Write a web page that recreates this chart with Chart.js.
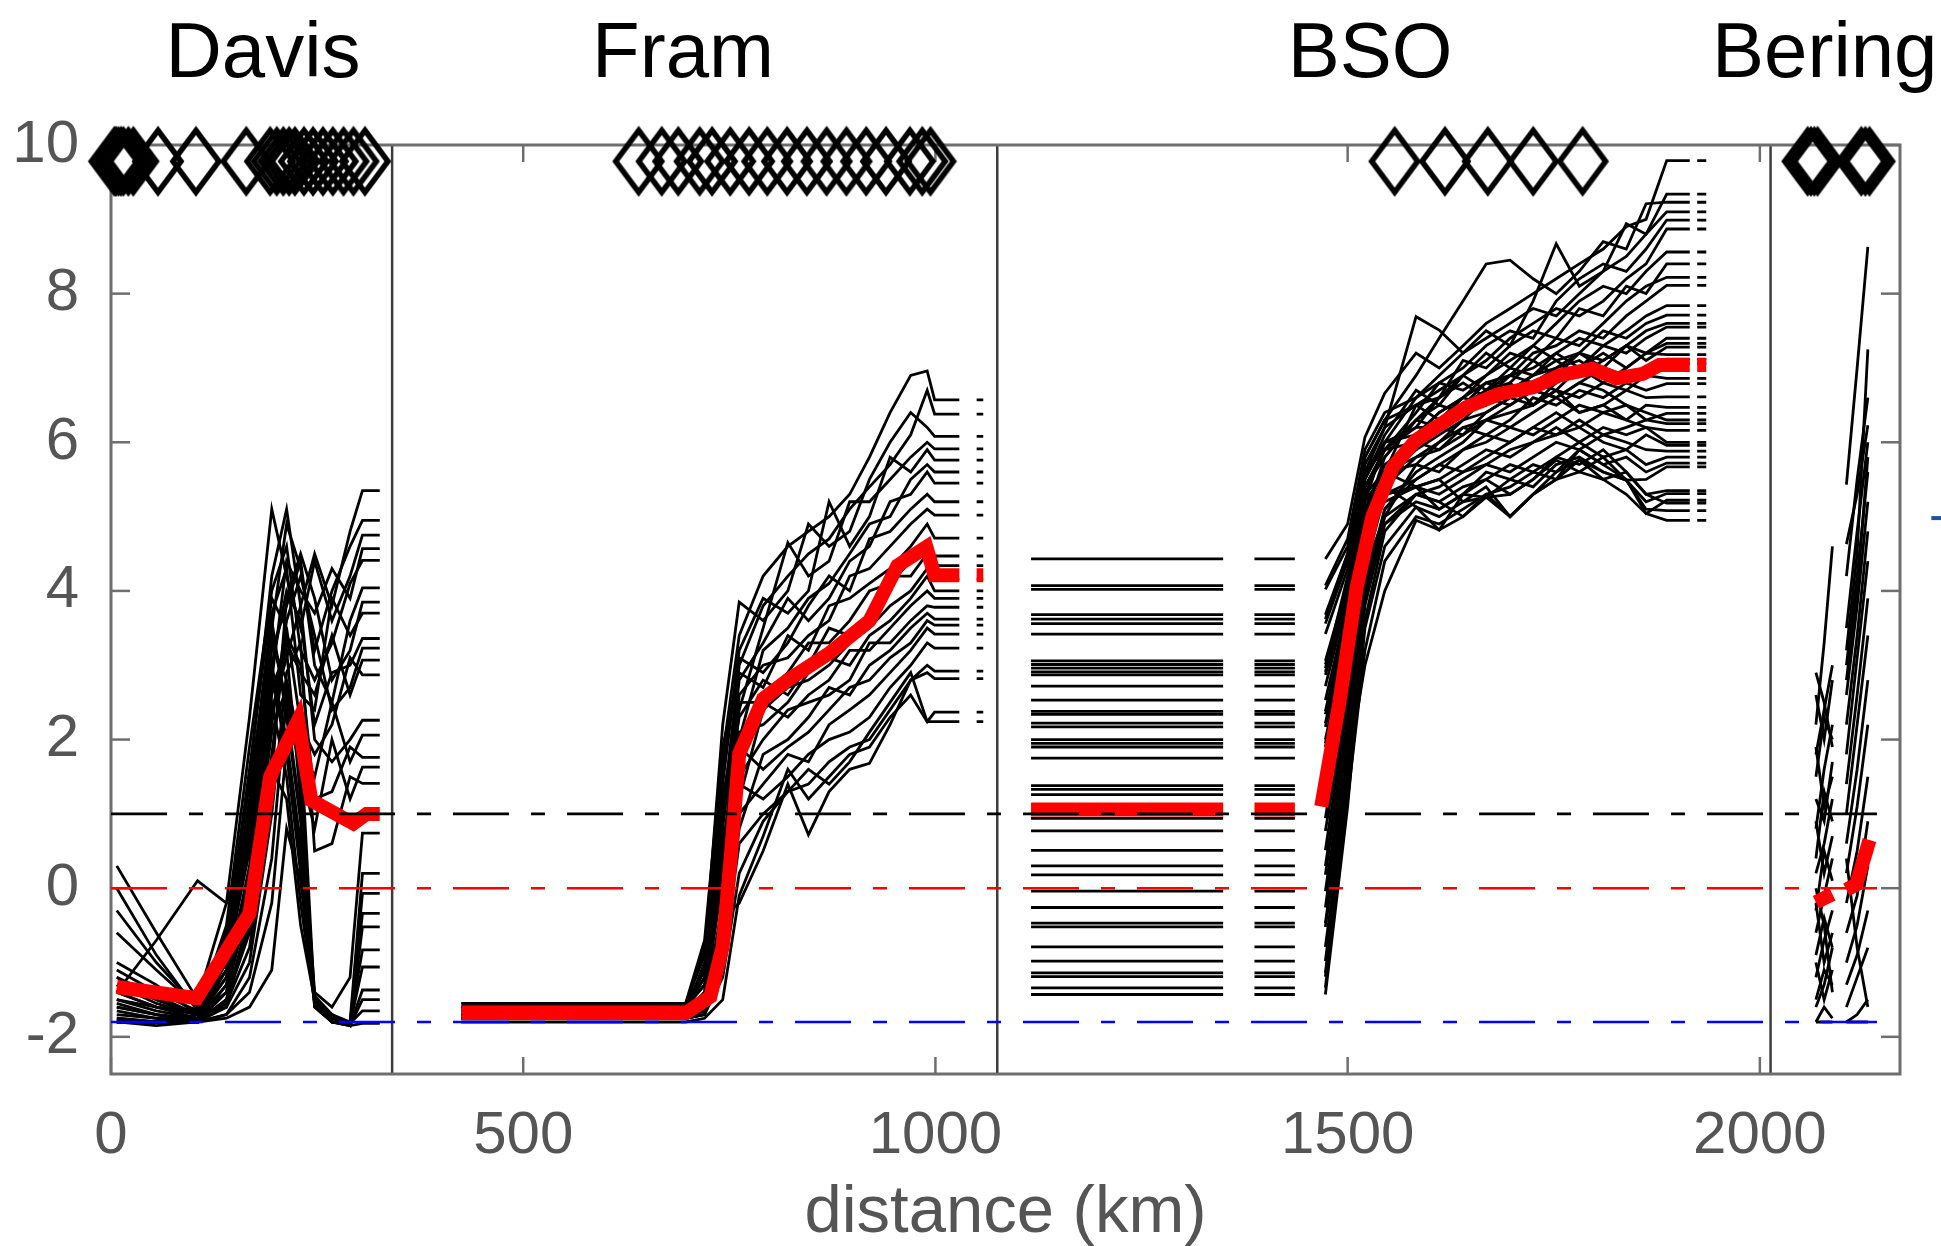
<!DOCTYPE html>
<html><head><meta charset="utf-8">
<script src="https://cdn.jsdelivr.net/npm/chart.js@4.4.0/dist/chart.umd.min.js"></script>
<style>html,body{margin:0;padding:0;background:#fff;}canvas{display:block;}</style>
</head><body>
<canvas id="c" width="1941" height="1246"></canvas>
<script>
// ---------------- DATA ----------------
const panelNames = ['Davis', 'Fram', 'BSO', 'Bering'];
const xTicks = [0, 500, 1000, 1500, 2000];
const yTicks = [-2, 0, 2, 4, 6, 8, 10];
const dividers = [341, 1075, 2013];
const refLines = [1, 0, -1.8];
const refColors = ['#000000', '#ff0000', '#0000ff'];
const refSpan = [0, 2150];

const diamondY = 9.78;
const davisDiamonds = [4, 6, 9, 12, 15, 21, 27, 57, 103, 164, 193, 201, 209, 216, 223, 234, 245, 257, 269, 282, 294, 308];
const framDiamonds = [640, 668, 688, 714, 729, 751, 774, 796, 820, 844, 868, 892, 916, 940, 969, 984, 994];
const bsoDiamonds = [1557, 1618, 1670, 1725, 1785];
const beringDiamonds = [2058, 2062, 2066, 2070, 2123, 2128, 2133];

// Davis ensemble
const davisX = [7, 55, 105, 140, 168, 195, 213, 230, 247, 268, 290, 305, 326];
const davisMembers = [
  [-1.2,-1.5,-1.7,-0.8,1.5,4.2,5.1,3.8,4.5,3.8,4.8,5.35,5.35],
  [-1.6,-1.7,-1.75,-1.2,0.8,3.5,4.9,4.3,3.2,4.0,4.6,4.95,4.95],
  [0.3,-0.6,-1.5,-0.2,2.3,5.1,4.2,3.5,4.4,3.6,4.2,4.75,4.75],
  [-1.8,-1.8,-1.7,-1.4,0.2,2.8,4.4,4.0,3.7,4.3,3.9,4.57,4.57],
  [-1.4,-1.6,-1.65,-0.5,1.9,4.0,4.6,3.2,2.8,3.3,4.1,4.41,4.41],
  [-0.3,-1.0,-1.6,-1.0,1.0,3.2,3.8,4.4,3.0,2.5,3.6,4.04,4.04],
  [-1.7,-1.75,-1.8,-1.5,-0.6,1.5,3.9,4.5,3.9,2.8,3.2,3.85,3.85],
  [-1.0,-1.3,-1.7,-0.9,1.2,3.7,4.3,2.6,2.4,3.9,3.4,3.7,3.7],
  [-1.5,-1.65,-1.75,-1.1,0.6,3.0,4.0,3.6,2.2,2.9,3.0,3.36,3.36],
  [-1.8,-1.8,-1.75,-1.6,-0.3,2.2,3.6,4.2,3.4,2.4,2.7,3.23,3.23],
  [-1.4,-0.7,0.1,-0.2,0.6,2.6,3.3,2.9,2.6,3.4,2.6,3.07,3.07],
  [-1.3,-1.5,-1.7,-0.7,1.6,3.9,3.5,2.2,1.8,2.2,3.1,2.87,2.87],
  [-1.75,-1.8,-1.8,-1.3,0.0,2.4,3.1,3.8,2.0,1.7,2.0,2.26,2.26],
  [-1.1,-1.4,-1.65,-1.0,0.9,3.3,2.8,1.9,1.5,2.5,1.7,2.06,2.06],
  [-1.6,-1.7,-1.8,-1.5,-0.4,1.8,3.4,3.0,1.2,1.3,1.9,1.76,1.76],
  [-0.6,-1.1,-1.6,-0.6,1.4,3.4,2.5,1.6,0.8,2.0,1.2,1.63,1.63],
  [-1.8,-1.85,-1.8,-1.6,-1.0,1.0,2.9,3.3,0.5,0.6,1.5,1.41,1.41],
  [-1.5,-1.6,-1.7,-1.2,0.3,2.7,3.2,1.2,-1.4,-1.6,-1.2,0.74,0.74],
  [-1.3,-1.55,-1.7,-0.8,1.1,3.6,2.3,0.9,-1.5,-1.8,-1.8,0.2,0.2],
  [-1.8,-1.8,-1.8,-1.7,-1.2,0.4,2.6,2.0,-1.55,-1.7,-1.85,-0.07,-0.07],
  [0.0,-0.9,-1.65,-1.1,0.7,3.0,2.0,0.6,-1.5,-1.75,-1.82,-0.34,-0.34],
  [-1.65,-1.75,-1.8,-1.4,-0.2,2.1,2.7,1.5,-1.6,-1.8,-1.85,-0.52,-0.52],
  [-1.2,-1.45,-1.7,-1.0,0.5,2.9,1.8,0.2,-1.45,-1.7,-1.8,-0.83,-0.83],
  [-1.75,-1.8,-1.8,-1.55,-0.8,1.3,2.4,1.0,-1.5,-1.8,-1.83,-1.06,-1.06],
  [-1.4,-1.6,-1.75,-1.3,0.1,2.5,1.5,-0.2,-1.55,-1.75,-1.85,-1.37,-1.37],
  [-1.8,-1.8,-1.8,-1.7,-1.4,-0.2,1.9,0.4,-1.6,-1.8,-1.85,-1.5,-1.5],
  [-1.55,-1.7,-1.8,-1.5,-0.5,1.6,1.2,-0.5,-1.5,-1.75,-1.82,-1.65,-1.65],
  [-1.8,-1.8,-1.8,-1.75,-1.6,-1.1,0.8,0.1,-1.55,-1.8,-1.85,-1.82,-1.82]
];
const davisMeanX = [7, 104, 168, 193, 227, 243, 294, 310, 326];
const davisMeanY = [-1.33, -1.48, -0.34, 1.5, 2.26, 1.18, 0.87, 1.0, 1.0];

// Fram ensemble
const framX = [425, 697, 720, 742, 762, 791, 821, 846, 871, 896, 920, 945, 970, 990];
const framTails = [[999, 1029], [1050, 1058]];
const framMembers = [
  [-1.6,-1.6,-0.8,1.8,3.4,4.2,4.6,4.8,5.0,5.3,5.8,6.4,6.9,6.96],
  [-1.65,-1.65,-1.2,1.0,3.0,3.8,4.2,4.5,4.7,5.1,5.4,5.7,6.1,6.7],
  [-1.55,-1.55,-0.9,2.2,3.85,3.6,4.0,4.9,4.6,4.8,5.5,6.0,6.4,6.2],
  [-1.7,-1.7,-1.5,0.2,2.4,3.5,4.65,4.2,4.4,5.2,5.2,5.5,5.8,6.0],
  [-1.6,-1.6,-1.1,1.4,3.2,3.9,3.7,4.0,5.2,4.6,5.0,5.8,5.6,5.9],
  [-1.75,-1.75,-1.6,-0.5,2.0,3.2,3.5,3.9,4.1,4.5,4.9,5.0,5.5,5.7],
  [-1.6,-1.6,-1.3,0.8,2.8,3.3,3.9,3.6,3.9,4.4,4.6,5.2,5.3,5.6],
  [-1.65,-1.65,-1.0,1.6,3.1,2.9,3.3,3.8,4.2,4.0,4.7,4.8,5.1,5.3],
  [-1.7,-1.7,-1.4,0.4,2.6,3.0,3.1,3.4,3.6,4.2,4.3,4.6,4.9,5.1],
  [-1.55,-1.55,-0.7,1.9,2.9,2.7,3.4,3.2,3.8,3.9,4.1,4.3,4.6,4.9],
  [-1.7,-1.7,-1.6,-0.2,1.8,2.6,2.9,3.3,3.3,3.6,4.0,4.1,4.4,4.6],
  [-1.6,-1.6,-1.2,0.9,2.3,2.8,2.6,3.0,3.5,3.4,3.7,4.2,4.2,4.5],
  [-1.75,-1.75,-1.7,-0.8,1.2,2.4,2.7,2.8,3.0,3.3,3.5,3.8,4.0,4.3],
  [-1.65,-1.65,-1.4,0.5,2.1,2.2,2.5,2.9,3.1,3.0,3.4,3.6,3.9,4.2],
  [-1.6,-1.6,-1.1,1.2,2.5,2.5,2.3,2.6,2.8,3.2,3.2,3.5,3.8,4.0],
  [-1.7,-1.7,-1.5,-0.3,1.5,2.0,2.4,2.5,2.6,2.8,3.3,3.3,3.6,3.8],
  [-1.75,-1.75,-1.65,-0.9,0.8,1.8,2.0,2.3,2.7,2.6,3.0,3.2,3.5,3.7],
  [-1.6,-1.6,-1.3,0.6,1.9,1.6,1.9,2.1,2.4,2.7,2.8,3.1,3.3,3.6],
  [-1.7,-1.7,-1.55,-0.6,1.0,1.4,1.8,1.7,2.2,2.4,2.6,2.9,3.2,3.5],
  [-1.65,-1.65,-1.45,0.1,1.4,1.2,1.5,1.8,2.0,2.1,2.3,2.7,3.0,3.3],
  [-1.75,-1.75,-1.7,-1.2,0.2,0.9,1.3,1.4,1.7,1.9,2.0,2.4,2.8,3.0],
  [-1.7,-1.7,-1.6,-0.4,-0.2,0.5,1.4,0.72,1.3,1.6,1.68,2.2,2.8,2.9],
  [-1.8,-1.8,-1.75,-1.5,-0.1,0.7,1.6,1.2,1.5,1.8,1.9,2.3,2.6,2.24],
  [-1.75,-1.75,-1.7,-1.0,0.6,1.0,1.3,1.6,1.4,1.7,2.1,2.5,2.9,2.24]
];
const framFinal = [6.57,6.38,6.08,5.91,5.76,5.6,5.45,5.2,5.02,4.71,4.47,4.34,4.16,4.0,3.9,3.78,3.62,3.54,3.42,3.23,2.92,2.82,2.37,2.24];
const framMeanX = [425, 697, 727, 742, 752, 762, 791, 821, 871, 920, 954, 989, 999, 1029, 1040, 1050, 1058];
const framMeanY = [-1.68,-1.68,-1.46,-0.78,0.45,1.81,2.55,2.8,3.16,3.6,4.34,4.59,4.21,4.21,null,4.21,4.21];

// BSO ensemble (first value = value at first station, also the extrapolated flat value)
const bsoFlats = [[1116, 1349], [1387, 1436]];
const bsoX = [1473, 1500, 1521, 1545, 1583, 1611, 1640, 1668, 1697, 1725, 1753, 1781, 1810, 1838, 1862, 1887];
const bsoTails = [[1887, 1915], [1924, 1935]];
const bsoMembers = [
  [4.43,4.9,6.07,6.66,7.2,7.0,7.3,7.6,7.8,8.0,8.2,8.4,8.6,8.9,9.0,9.79],
  [2.96,4.2,5.6,6.2,7.69,7.51,7.2,7.5,7.3,7.9,8.67,8.1,8.3,8.94,8.8,9.34],
  [3.62,4.5,5.8,6.3,6.9,7.4,7.9,8.4,8.45,8.2,8.0,8.3,8.7,8.6,9.21,9.23],
  [1.90,3.5,5.2,6.0,6.6,6.9,7.2,7.4,7.6,7.8,7.7,8.0,8.3,8.5,8.8,9.10],
  [2.53,3.8,5.4,5.9,6.4,6.8,7.0,7.3,7.5,7.4,7.9,8.2,8.4,8.3,8.6,8.99],
  [0.77,2.6,4.8,5.6,6.5,6.7,6.9,7.1,7.4,7.6,7.8,7.7,7.9,8.2,8.4,8.87],
  [3.06,4.1,5.5,6.1,6.7,6.5,6.9,7.2,7.0,7.3,7.6,7.9,8.1,8.0,8.3,8.56],
  [1.33,3.0,5.0,5.8,6.3,6.6,7.1,7.0,7.3,7.5,7.4,7.8,7.7,8.1,8.0,8.40],
  [3.42,4.3,5.6,6.0,6.1,6.4,6.6,6.9,7.2,7.1,7.4,7.3,7.6,7.9,8.1,8.22],
  [-0.26,1.9,4.3,5.3,6.0,6.3,6.5,6.8,6.9,7.2,7.3,7.5,7.4,7.7,7.9,8.11],
  [2.22,3.6,5.3,5.9,6.2,6.2,6.5,6.7,7.0,6.9,7.2,7.4,7.3,7.5,7.7,7.84],
  [4.07,4.7,5.9,6.4,6.6,6.8,6.7,6.9,7.1,7.3,7.1,7.2,7.5,7.4,7.6,7.71],
  [0.30,2.3,4.6,5.5,5.9,6.1,6.3,6.6,6.7,6.9,7.0,7.2,7.1,7.3,7.5,7.60],
  [2.72,3.9,5.4,5.8,6.3,6.5,6.4,6.7,6.9,7.0,7.2,7.0,7.3,7.2,7.4,7.55],
  [1.26,3.0,4.9,5.6,6.1,6.4,6.6,6.5,6.8,7.1,6.9,7.2,7.0,7.3,7.2,7.40],
  [-1.14,1.3,3.9,5.0,5.7,6.0,6.3,6.4,6.6,6.8,6.7,7.0,7.2,7.0,7.2,7.33],
  [3.56,4.4,5.7,6.2,6.5,6.3,6.6,6.8,6.7,6.9,7.1,6.9,7.1,7.3,7.1,7.28],
  [2.00,3.4,5.1,5.7,6.0,6.2,6.1,6.4,6.6,6.5,6.8,7.0,6.8,7.0,7.2,7.18],
  [0.51,2.5,4.7,5.4,5.8,5.9,6.2,6.3,6.5,6.7,6.6,6.8,7.0,6.9,7.0,7.12],
  [2.87,3.9,5.5,6.0,6.2,6.6,6.8,6.6,6.9,6.8,7.0,7.1,6.9,6.8,7.0,7.06],
  [-0.79,1.5,4.0,5.1,5.6,5.8,6.0,6.3,6.4,6.5,6.7,6.6,6.8,6.7,6.9,6.86],
  [1.75,3.2,5.0,5.6,5.8,6.0,6.2,6.1,6.3,6.6,6.5,6.7,6.6,6.8,6.7,6.79],
  [3.68,4.5,5.6,5.9,6.0,5.9,6.1,6.3,6.2,6.4,6.6,6.4,6.5,6.7,6.6,6.61],
  [-0.47,1.7,4.1,5.1,5.5,5.7,5.9,6.0,6.2,6.1,6.3,6.5,6.4,6.3,6.5,6.47],
  [2.38,3.7,5.2,5.6,5.7,5.6,5.9,6.1,6.0,6.2,6.4,6.2,6.4,6.5,6.3,6.39],
  [0.94,2.8,4.8,5.3,5.5,5.7,5.6,5.8,6.0,6.2,6.1,6.3,6.1,6.2,6.3,6.25],
  [-1.43,1.1,3.6,4.8,5.3,5.4,5.6,5.7,5.9,6.0,6.2,6.0,6.2,6.1,6.2,6.16],
  [3.01,4.0,5.3,5.6,5.4,5.5,5.7,5.9,5.8,6.0,6.1,6.2,6.0,5.9,6.1,5.96],
  [1.38,3.0,4.8,5.3,5.4,5.3,5.5,5.7,5.6,5.8,6.0,5.9,6.1,6.0,5.9,5.88],
  [-0.98,1.4,3.8,4.9,5.2,5.1,5.3,5.5,5.7,5.6,5.8,6.0,5.8,5.9,5.7,5.80],
  [2.34,3.6,5.1,5.4,5.13,4.82,5.3,5.26,5.5,5.7,5.6,5.9,5.7,5.8,5.6,5.72],
  [0.18,2.2,4.3,5.0,5.3,5.2,5.4,5.5,5.3,5.5,5.76,5.6,5.8,5.49,5.5,5.67],
  [-1.34,1.2,3.5,4.6,5.13,5.0,5.2,5.4,5.0,5.3,5.5,5.76,5.5,5.6,5.3,5.35],
  [2.17,3.5,5.0,5.3,5.4,5.1,5.3,5.6,5.5,5.4,5.7,5.8,5.6,5.49,5.2,5.31],
  [-0.04,2.0,4.2,4.9,5.3,5.2,5.0,5.3,5.4,5.6,5.5,5.9,5.7,5.5,5.04,5.22],
  [1.95,3.4,5.0,5.2,5.4,5.5,5.2,5.26,5.3,5.5,5.8,5.7,5.9,5.6,5.3,5.18],
  [-1.19,1.2,3.2,4.4,5.0,4.9,5.1,5.3,5.0,5.3,5.6,5.76,5.6,5.49,5.1,5.08],
  [-0.52,1.6,3.0,4.0,4.95,4.82,5.0,5.26,5.0,5.3,5.5,5.6,5.5,5.3,5.04,4.95],
  [4.02,4.6,5.8,6.3,6.5,6.6,6.9,6.7,6.8,6.5,6.7,6.4,6.5,6.3,6.2,6.0],
  [2.91,3.9,5.4,5.9,6.3,6.2,6.4,6.6,6.5,6.7,6.6,6.8,6.7,6.5,6.4,6.3]
];
const bsoMeanX = [1116, 1349, 1368, 1387, 1436, 1455, 1468, 1490, 1511, 1530, 1555, 1583, 1644, 1684, 1725, 1757, 1797, 1826, 1858, 1878, 1915, 1919, 1924, 1935];
const bsoMeanY = [1.06,1.06,null,1.06,1.06,null,1.10,2.5,4.05,5.0,5.67,6.03,6.47,6.65,6.74,6.90,6.99,6.86,6.92,7.04,7.04,null,7.04,7.04];

// Bering ensemble: two station groups
const beringX1 = [2068, 2078, 2088];
const beringX2 = [2105, 2118, 2131];
const beringMembers = [
  [2.2,3.3,4.6, 5.43,7.0,8.63],
  [1.8,2.4,3.0, 4.63,5.3,6.23],
  [2.6,2.0,2.8, 4.2,5.5,6.6],
  [1.5,2.3,2.0, 3.5,4.8,6.0],
  [0.8,1.6,2.2, 3.0,4.2,5.6],
  [1.2,0.9,1.7, 2.6,3.8,5.2],
  [0.4,1.3,0.9, 2.2,3.4,4.8],
  [1.9,1.1,1.5, 1.8,3.1,4.4],
  [0.2,0.6,1.2, 1.4,2.6,3.9],
  [-0.3,0.5,0.1, 1.0,2.2,3.4],
  [0.9,0.2,0.7, 0.6,1.6,2.8],
  [-0.6,-0.1,0.4, 0.2,1.1,2.2],
  [-0.9,-0.4,-0.8, -0.2,0.5,1.5],
  [-1.2,-0.7,-0.3, -0.6,-0.1,0.9],
  [-0.2,-1.0,-0.6, -1.0,-0.5,0.3],
  [-1.5,-1.1,-1.3, -1.3,-0.9,-0.3],
  [-1.0,-1.5,-1.1, -1.6,-1.2,-0.8],
  [-1.8,-1.6,-1.75, -1.8,-1.7,-1.5],
  [-1.8,-1.8,-1.8, -1.8,-1.8,-1.8],
  [0.0,-0.5,-1.4, 0.4,-0.8,-1.6],
  [2.9,2.5,1.9, 3.2,4.5,7.25],
  [-1.6,-1.3,-0.8, 2.8,4.0,5.8]
];
const beringMeanX = [2068, 2088, 2097, 2105, 2117, 2133];
const beringMeanY = [-0.19, -0.08, null, -0.02, 0.05, 0.65];

const strayMarkX = [2208, 2225];
const strayMarkY = [4.98, 4.98];

// ---------------- BUILD ----------------
const FONT = "'Liberation Sans', Arial, Helvetica, sans-serif";
const pts = (xs, ys) => xs.map((x, i) => ({ x, y: ys[i] }));
const datasets = [];
function blackLine(points) {
  datasets.push({ data: points, showLine: true, borderColor: '#000', borderWidth: 2.8,
    pointRadius: 0, spanGaps: false, order: 4 });
}
function redLine(xs, ys) {
  datasets.push({ data: pts(xs, ys), showLine: true, borderColor: '#ff0000', borderWidth: 14,
    pointRadius: 0, spanGaps: false, order: 2 });
}
function withTails(points, tails, v) {
  tails.forEach((seg, k) => {
    if (k > 0) points.push({ x: (seg[0] + points[points.length - 1].x) / 2, y: null });
    seg.forEach(x => points.push({ x, y: v }));
  });
  return points;
}

davisMembers.forEach(m => blackLine(pts(davisX, m)));
framMembers.forEach((m, i) => blackLine(withTails(pts(framX, m), framTails, framFinal[i])));
bsoMembers.forEach(m => {
  const p = withTails([], bsoFlats, m[0]);
  p.push({ x: (bsoFlats[1][1] + bsoX[0]) / 2, y: null });
  pts(bsoX, m).forEach(q => p.push(q));
  const f = m[m.length - 1];
  p.push({ x: bsoTails[0][1], y: f });
  p.push({ x: (bsoTails[0][1] + bsoTails[1][0]) / 2, y: null });
  bsoTails[1].forEach(x => p.push({ x, y: f }));
  blackLine(p);
});
beringMembers.forEach(m => {
  const p = pts(beringX1, m.slice(0, 3));
  p.push({ x: (beringX1[2] + beringX2[0]) / 2, y: null });
  pts(beringX2, m.slice(3)).forEach(q => p.push(q));
  blackLine(p);
});

redLine(davisMeanX, davisMeanY);
redLine(framMeanX, framMeanY);
redLine(bsoMeanX, bsoMeanY);
redLine(beringMeanX, beringMeanY);

refLines.forEach((v, i) => datasets.push({
  data: refSpan.map(x => ({ x, y: v })), showLine: true, borderColor: refColors[i], borderWidth: 2.6,
  borderDash: [56, 22, 14, 22], pointRadius: 0, order: 1 }));

datasets.push({ data: pts(strayMarkX, strayMarkY), showLine: true, borderColor: '#1f4fa3', borderWidth: 4,
  pointRadius: 0, clip: false, order: 1 });

function diamondImg() {
  const c = document.createElement('canvas'); c.width = 58; c.height = 72;
  const g = c.getContext('2d'); g.strokeStyle = '#000'; g.lineWidth = 5.5; g.lineJoin = 'miter';
  g.beginPath(); g.moveTo(29, 5); g.lineTo(52, 36); g.lineTo(29, 67); g.lineTo(6, 36); g.closePath(); g.stroke();
  return c;
}
const dImg = diamondImg();
const allDiamonds = [].concat(davisDiamonds, framDiamonds, bsoDiamonds, beringDiamonds);
datasets.push({ data: allDiamonds.map(x => ({ x, y: diamondY })), showLine: false, pointStyle: dImg,
  pointRadius: 25, clip: false, order: 0 });

const framePlugin = {
  id: 'frame',
  beforeDatasetsDraw(chart) {
    const { ctx, chartArea: a, scales: { x, y } } = chart;
    ctx.save();
    const ln = (x1, y1, x2, y2) => { ctx.beginPath(); ctx.moveTo(x1, y1); ctx.lineTo(x2, y2); ctx.stroke(); };
    ctx.strokeStyle = '#3c3c3c'; ctx.lineWidth = 2.5;
    dividers.forEach(d => { const px = x.getPixelForValue(d); ln(px, a.top, px, a.bottom); });
    ctx.strokeStyle = '#6e6e6e'; ctx.lineWidth = 3;
    ctx.strokeRect(a.left, a.top, a.right - a.left, a.bottom - a.top);
    ctx.lineWidth = 2.5;
    xTicks.forEach(v => { const px = x.getPixelForValue(v); ln(px, a.bottom, px, a.bottom - 17); ln(px, a.top, px, a.top + 17); });
    yTicks.forEach(v => { const py = y.getPixelForValue(v); ln(a.left, py, a.left + 19, py); ln(a.right, py, a.right - 19, py); });
    ctx.restore();
  },
  afterDraw(chart) {
    const ctx = chart.ctx;
    ctx.save();
    ctx.fillStyle = '#000'; ctx.font = '78px ' + FONT; ctx.textBaseline = 'alphabetic';
    const pos = [[263, 'center'], [683, 'center'], [1370, 'center'], [1712, 'left']];
    panelNames.forEach((n, i) => { ctx.textAlign = pos[i][1]; ctx.fillText(n, pos[i][0], 77); });
    ctx.restore();
  }
};

new Chart(document.getElementById('c'), {
  type: 'scatter',
  data: { datasets },
  options: {
    responsive: false, animation: false, devicePixelRatio: 1,
    layout: { padding: { top: 145, right: 41, left: 0, bottom: 0 } },
    plugins: { legend: { display: false }, tooltip: { enabled: false } },
    elements: { line: { tension: 0 } },
    scales: {
      x: {
        type: 'linear', min: 0, max: 2170,
        afterBuildTicks: s => { s.ticks = xTicks.map(v => ({ value: v })); },
        afterFit: s => { s.height = 172; },
        grid: { display: false, drawTicks: false }, border: { display: false },
        ticks: { color: '#555', font: { family: FONT, size: 60 }, padding: 26, maxRotation: 0,
          callback: v => String(v) },
        title: { display: true, text: 'distance (km)', color: '#555', font: { family: FONT, size: 67 }, padding: { top: 0, bottom: -8 } }
      },
      y: {
        type: 'linear', min: -2.5, max: 10,
        afterBuildTicks: s => { s.ticks = yTicks.map(v => ({ value: v })); },
        afterFit: s => { s.width = 111; },
        grid: { display: false, drawTicks: false }, border: { display: false },
        ticks: { color: '#555', font: { family: FONT, size: 60 }, padding: 32, callback: v => String(v) }
      }
    }
  },
  plugins: [framePlugin]
});
</script>
</body></html>
